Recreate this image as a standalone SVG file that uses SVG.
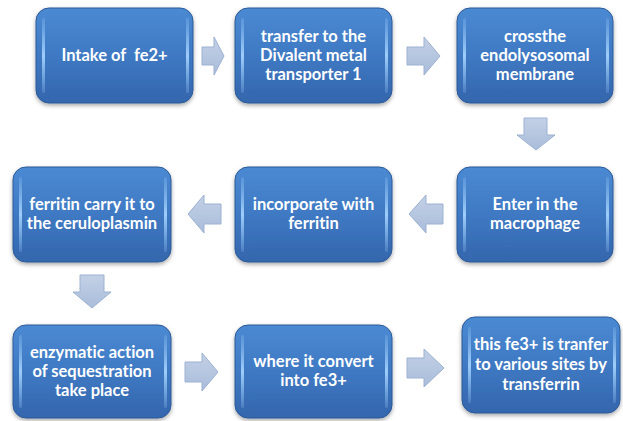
<svg xmlns="http://www.w3.org/2000/svg" width="623" height="421" viewBox="0 0 623 421">
<defs>
<linearGradient id="bg" x1="0" y1="0" x2="0" y2="1">
<stop offset="0" stop-color="#4b8ad3"/>
<stop offset="0.5" stop-color="#3f79c3"/>
<stop offset="1" stop-color="#3366ad"/>
</linearGradient>
<linearGradient id="hl" x1="0" y1="0" x2="0" y2="1">
<stop offset="0" stop-color="#9fd0ff" stop-opacity="0.2"/>
<stop offset="0.5" stop-color="#a8d6ff" stop-opacity="0.9"/>
<stop offset="1" stop-color="#9fd0ff" stop-opacity="0.2"/>
</linearGradient>
<linearGradient id="ag" x1="0" y1="0" x2="0" y2="1">
<stop offset="0" stop-color="#c3d1e6"/>
<stop offset="1" stop-color="#a9bcda"/>
</linearGradient>
<filter id="sh" x="-10%" y="-10%" width="120%" height="130%">
<feDropShadow dx="0" dy="2" stdDeviation="2" flood-color="#000" flood-opacity="0.35"/>
</filter>
</defs>
<style>
.box{fill:url(#bg);stroke:#2c5a97;stroke-width:1;filter:url(#sh)}
.hl{fill:url(#hl)}
.t{font-family:Lato,"Open Sans","Liberation Sans",sans-serif;font-weight:bold;font-size:16.5px;fill:#ffffff;text-anchor:middle;white-space:pre;font-variant-ligatures:none}
.ar{fill:url(#ag);stroke:#9cb1d2;stroke-width:1}
</style>
<g id="connectors">
<path class="ar" d="M202,47 H214 V37 L224,56 L214,75 V65 H202 Z"/>
<path class="ar" d="M407,47 H424 V37 L440,56 L424,75 V65 H407 Z"/>
<path class="ar" d="M524,118 H547 V135 H555 L536,150 L517,135 H524 Z"/>
<path class="ar" d="M221,204 H204 V195 L188,214 L204,233 V224 H221 Z"/>
<path class="ar" d="M443,204 H426 V195 L409,214 L426,233 V224 H443 Z"/>
<path class="ar" d="M80,275 H104 V292 H111 L92,308 L73,292 H80 Z"/>
<path class="ar" d="M185,362 H202 V353 L218,372 L202,391 V382 H185 Z"/>
<path class="ar" d="M407,358 H424 V349 L444,368 L424,387 V378 H407 Z"/>
</g>
<g id="n1">
<rect class="box" x="36" y="8" width="157" height="95" rx="13"/>
<rect class="hl" x="42" y="18" width="3" height="75" rx="1.5"/>
<rect class="hl" x="186" y="18" width="3" height="75" rx="1.5"/>
<text class="t" x="114.5" y="61" xml:space="preserve">Intake of  fe2+</text>
</g>
<g id="n2">
<rect class="box" x="235" y="8" width="157" height="95" rx="13"/>
<rect class="hl" x="241" y="18" width="3" height="75" rx="1.5"/>
<rect class="hl" x="385" y="18" width="3" height="75" rx="1.5"/>
<text class="t" x="313.5" y="42">transfer to the</text>
<text class="t" x="313.5" y="61">Divalent metal</text>
<text class="t" x="313.5" y="80">transporter 1</text>
</g>
<g id="n3">
<rect class="box" x="457" y="8" width="156" height="95" rx="13"/>
<rect class="hl" x="463" y="18" width="3" height="75" rx="1.5"/>
<rect class="hl" x="606" y="18" width="3" height="75" rx="1.5"/>
<text class="t" x="535" y="42">crossthe</text>
<text class="t" x="535" y="61">endolysosomal</text>
<text class="t" x="535" y="80">membrane</text>
</g>
<g id="n6">
<rect class="box" x="457" y="167" width="156" height="95" rx="13"/>
<rect class="hl" x="463" y="177" width="3" height="75" rx="1.5"/>
<rect class="hl" x="606" y="177" width="3" height="75" rx="1.5"/>
<text class="t" x="535" y="210">Enter in the</text>
<text class="t" x="535" y="229">macrophage</text>
</g>
<g id="n5">
<rect class="box" x="235" y="167" width="157" height="95" rx="13"/>
<rect class="hl" x="241" y="177" width="3" height="75" rx="1.5"/>
<rect class="hl" x="385" y="177" width="3" height="75" rx="1.5"/>
<text class="t" x="313.5" y="210">incorporate with</text>
<text class="t" x="313.5" y="229">ferritin</text>
</g>
<g id="n4">
<rect class="box" x="13" y="167" width="158" height="95" rx="13"/>
<rect class="hl" x="19" y="177" width="3" height="75" rx="1.5"/>
<rect class="hl" x="164" y="177" width="3" height="75" rx="1.5"/>
<text class="t" x="92" y="210">ferritin carry it to</text>
<text class="t" x="92" y="229">the ceruloplasmin</text>
</g>
<g id="n7">
<rect class="box" x="13" y="325" width="158" height="93" rx="13"/>
<rect class="hl" x="19" y="335" width="3" height="73" rx="1.5"/>
<rect class="hl" x="164" y="335" width="3" height="73" rx="1.5"/>
<text class="t" x="92" y="358">enzymatic action</text>
<text class="t" x="92" y="377">of sequestration</text>
<text class="t" x="92" y="396">take place</text>
</g>
<g id="n8">
<rect class="box" x="235" y="325" width="157" height="93" rx="13"/>
<rect class="hl" x="241" y="335" width="3" height="73" rx="1.5"/>
<rect class="hl" x="385" y="335" width="3" height="73" rx="1.5"/>
<text class="t" x="313.5" y="367">where it convert</text>
<text class="t" x="313.5" y="386">into fe3+</text>
</g>
<g id="n9">
<rect class="box" x="462" y="317" width="158" height="96" rx="13"/>
<rect class="hl" x="468" y="327" width="3" height="76" rx="1.5"/>
<rect class="hl" x="613" y="327" width="3" height="76" rx="1.5"/>
<text class="t" x="541" y="350">this fe3+ is tranfer</text>
<text class="t" x="541" y="370">to various sites by</text>
<text class="t" x="541" y="390">transferrin</text>
</g>
</svg>
